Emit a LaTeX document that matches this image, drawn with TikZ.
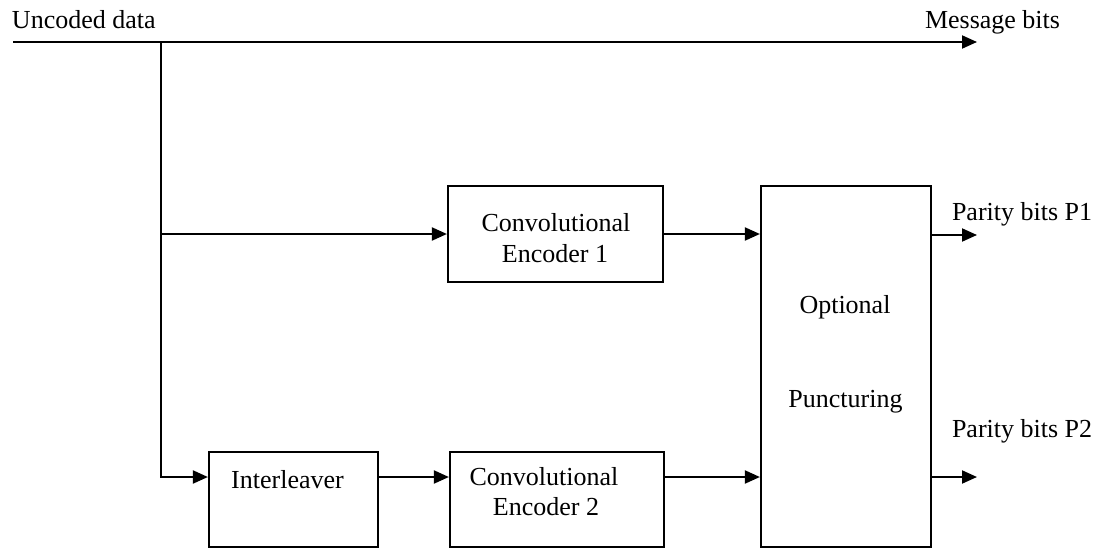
\documentclass[tikz,border=0pt]{standalone}
\usepackage{fontspec}
\setmainfont{Liberation Serif}
\usetikzlibrary{arrows.meta}
\begin{document}
\begin{tikzpicture}[x=1pt,y=-1pt,
  line width=2pt,
  flow/.style={-{Triangle[length=15pt,width=13pt]}},
  block/.style={draw,rectangle,inner sep=0pt,line width=2.2pt},
  txt/.style={inner sep=0pt,font=\fontsize{26}{30}\selectfont}]
\useasboundingbox (0,0) rectangle (1098,549);

% blocks
\node[block,minimum width=215pt,minimum height=96pt] (conv1) at (555.5,234) {};
\node[block,minimum width=214pt,minimum height=95pt] (conv2) at (557,499.5) {};
\node[block,minimum width=169pt,minimum height=95pt] (inter) at (293.5,499.5) {};
\node[block,minimum width=170pt,minimum height=361pt] (opt) at (846,366.5) {};

% block texts
\node[txt,anchor=base] (conv1a) at (556,231) {Convolutional};
\node[txt,anchor=base] (conv1b) at (555,262) {Encoder 1};
\node[txt,anchor=base] (conv2a) at (544,485) {Convolutional};
\node[txt,anchor=base] (conv2b) at (546,515) {Encoder 2};
\node[txt,anchor=base] (intert) at (287.5,488) {Interleaver};
\node[txt,anchor=base] (opta) at (845,313) {Optional};
\node[txt,anchor=base] (optb) at (845.5,407) {Puncturing};

% outer labels
\node[txt,anchor=base west] (uncoded) at (11,28) {Uncoded data};
\node[txt,anchor=base west] (msg) at (924,28) {Message bits};
\node[txt,anchor=base west] (p1) at (951,220) {Parity bits P1};
\node[txt,anchor=base west] (p2) at (951,437) {Parity bits P2};

% free ends and routing points
\coordinate (src) at (13,42);
\coordinate (msgout) at (977,42);
\coordinate (split) at (161,42);
\coordinate (lowrow) at (0,477);
\coordinate (p1out) at (977,235);
\coordinate (p2out) at (977,477);

% connectors
\draw[flow] (src) -- (msgout);
\draw[flow] (split) |- (inter.west |- lowrow);
\draw[flow] (split |- conv1.west) -- (conv1.west);
\draw[flow] (inter.east |- lowrow) -- (conv2.west |- lowrow);
\draw[flow] (conv1.east) -- (opt.west |- conv1.east);
\draw[flow] (conv2.east |- lowrow) -- (opt.west |- lowrow);
\draw[flow] (opt.east |- p1out) -- (p1out);
\draw[flow] (opt.east |- lowrow) -- (p2out);
\end{tikzpicture}
\end{document}
